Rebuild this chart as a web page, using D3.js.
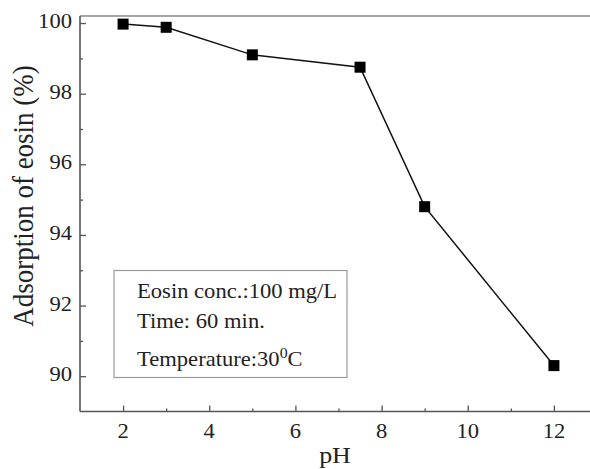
<!DOCTYPE html>
<html>
<head>
<meta charset="utf-8">
<script src="https://cdn.jsdelivr.net/npm/d3@7"></script>
<style>
html,body{margin:0;padding:0;background:#fff;}
svg{display:block;}
text{font-family:"Liberation Serif","Times New Roman",serif;fill:#222;}
</style>
</head>
<body>
<svg id="chart" width="590" height="469"></svg>
<script>
// Data
const pH = [2, 3, 5, 7.5, 9, 12];
const adsorption = [99.97, 99.88, 99.1, 98.75, 94.8, 90.3];
const xMajorTicks = [2, 4, 6, 8, 10, 12];
const xMinorTicks = [3, 5, 7, 9, 11];
const yMajorTicks = [90, 92, 94, 96, 98, 100];
const yMinorTicks = [91, 93, 95, 97, 99];
const infoLines = ["Eosin conc.:100 mg/L", "Time: 60 min."];
const xTitle = "pH";
const yTitle = "Adsorption of eosin (%)";

const svg = d3.select("#chart");
const mLeft = 80, mRight = 597, mTop = 16, mBottom = 411.5;
const x = d3.scaleLinear().domain([1, 13]).range([mLeft, mRight]);
const y = d3.scaleLinear().domain([89, 100.2]).range([mBottom, mTop]);
const SX = 1.13;

// top frame line
svg.append("line").attr("x1", mLeft).attr("x2", 590).attr("y1", mTop).attr("y2", mTop)
  .attr("stroke", "#8a8a8a").attr("stroke-width", 1.5);

// x axis
const xAxis = svg.append("g").attr("transform", `translate(0,${mBottom})`);
xAxis.call(d3.axisBottom(x).tickValues(xMajorTicks).tickSize(-6).tickFormat(""));
xAxis.append("g").call(d3.axisBottom(x).tickValues(xMinorTicks).tickSize(-3).tickFormat(""));
xAxis.selectAll("g g .domain").remove();
xAxis.select(".domain").attr("stroke", "#555").attr("stroke-width", 1.6).attr("d", `M${mLeft},0H590`);
xAxis.selectAll(".tick line").attr("stroke", "#555").attr("stroke-width", 1.3);

svg.append("g").selectAll("text").data(xMajorTicks).join("text")
  .attr("transform", d => `translate(${x(d)},438) scale(${SX},1)`)
  .attr("text-anchor", "middle").attr("font-size", 20).text(d => d);

// y axis
const yAxis = svg.append("g").attr("transform", `translate(${mLeft},0)`);
yAxis.call(d3.axisLeft(y).tickValues(yMajorTicks).tickSize(-6).tickFormat(""));
yAxis.append("g").call(d3.axisLeft(y).tickValues(yMinorTicks).tickSize(-3).tickFormat(""));
yAxis.selectAll("g g .domain").remove();
yAxis.select(".domain").attr("stroke", "#555").attr("stroke-width", 1.6).attr("d", `M0,${mTop}V${mBottom}`);
yAxis.selectAll(".tick line").attr("stroke", "#555").attr("stroke-width", 1.3);

svg.append("g").selectAll("text").data(yMajorTicks).join("text")
  .attr("transform", d => `translate(72,${y(d) + 5}) scale(${SX},1)`)
  .attr("text-anchor", "end").attr("font-size", 20).text(d => d);

// axis titles
svg.append("text")
  .attr("transform", `translate(${(mLeft + 590) / 2},463) scale(${SX},1)`)
  .attr("text-anchor", "middle").attr("font-size", 23).text(xTitle);
svg.append("text")
  .attr("transform", `translate(33,196) rotate(-90) scale(1,${SX})`)
  .attr("text-anchor", "middle").attr("font-size", 27).text(yTitle);

// info box
svg.append("rect").attr("x", 114).attr("y", 270.5).attr("width", 233).attr("height", 107)
  .attr("fill", "none").attr("stroke", "#9a9a9a").attr("stroke-width", 1.2);
const info = svg.append("g");
info.selectAll("text.line").data(infoLines).join("text").attr("class", "line")
  .attr("transform", (d, i) => `translate(137,${298 + i * 30}) scale(${SX},1)`)
  .attr("font-size", 20).text(d => d);
const t3 = info.append("text").attr("transform", `translate(137,366) scale(${SX},1)`).attr("font-size", 20);
t3.append("tspan").text("Temperature:30");
t3.append("tspan").attr("dy", -8).attr("font-size", 14).text("0");
t3.append("tspan").attr("dy", 8).text("C");

// data line
const pts = pH.map((d, i) => [d, adsorption[i]]);
svg.append("path").datum(pts)
  .attr("d", d3.line().x(d => x(d[0])).y(d => y(d[1])))
  .attr("fill", "none").attr("stroke", "#111").attr("stroke-width", 1.5);
svg.append("g").selectAll("rect").data(pts).join("rect")
  .attr("x", d => x(d[0]) - 5.5).attr("y", d => y(d[1]) - 5.5)
  .attr("width", 11).attr("height", 11).attr("fill", "#000");
</script>
</body>
</html>
